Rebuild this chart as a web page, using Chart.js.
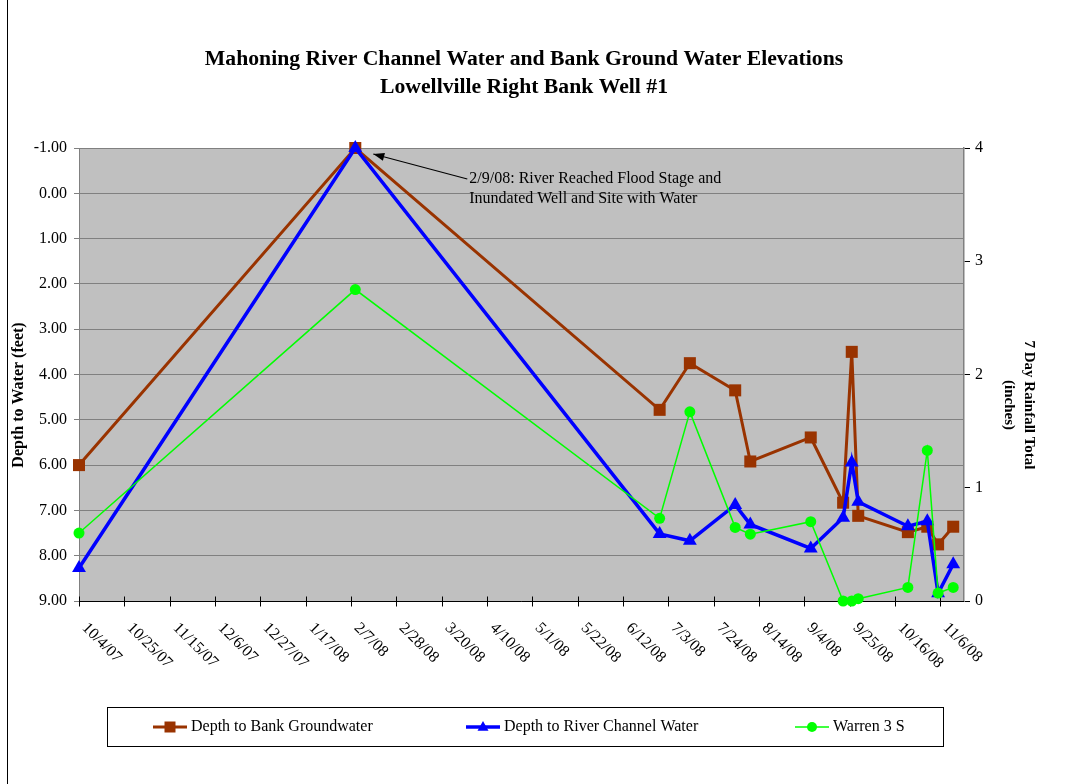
<!DOCTYPE html>
<html>
<head>
<meta charset="utf-8">
<title>Mahoning River Channel Water and Bank Ground Water Elevations</title>
<script src="https://cdn.jsdelivr.net/npm/chart.js@4.4.1/dist/chart.umd.min.js"></script>
<style>
  html, body { margin: 0; padding: 0; background: #ffffff; }
  #wrap { width: 1069px; height: 784px; position: relative; }
  canvas { display: block; }
</style>
</head>
<body>
<div id="wrap"><canvas id="chart" width="1069" height="784"></canvas></div>
<script>
// Sampling dates (M/D/YY) and measured values
const sampleDates = ['10/4/07', '2/9/08', '6/29/08', '7/13/08', '8/3/08', '8/10/08', '9/7/08',
                     '9/22/08', '9/26/08', '9/29/08', '10/22/08', '10/31/08', '11/5/08', '11/12/08'];
// Depth to water, feet (left axis)
const bankGroundwater = [6.00, -1.00, 4.78, 3.75, 4.35, 5.92, 5.39, 6.83, 3.50, 7.12, 7.48, 7.36, 7.75, 7.36];
const riverChannel    = [8.27, -1.00, 7.52, 7.67, 6.88, 7.31, 7.84, 7.16, 5.94, 6.81, 7.35, 7.24, 8.83, 8.19];
// 7 day rainfall total, inches (right axis)
const warren3S        = [0.60, 2.75, 0.73, 1.67, 0.65, 0.59, 0.70, 0.00, 0.00, 0.02, 0.12, 1.33, 0.07, 0.12];

// Date axis: ticks every 21 days
const dateTickLabels = ['10/4/07', '10/25/07', '11/15/07', '12/6/07', '12/27/07', '1/17/08', '2/7/08',
                        '2/28/08', '3/20/08', '4/10/08', '5/1/08', '5/22/08', '6/12/08', '7/3/08',
                        '7/24/08', '8/14/08', '9/4/08', '9/25/08', '10/16/08', '11/6/08'];
const axisStart = '10/4/07';
const axisEnd = '11/17/08';

const titleLines = ['Mahoning River Channel Water and Bank Ground Water Elevations',
                    'Lowellville Right Bank Well #1'];
const depthAxisTitle = 'Depth to Water (feet)';
const rainAxisTitle = ['7 Day Rainfall Total', '(inches)'];
const noteLines = ['2/9/08: River Reached Flood Stage and', 'Inundated Well and Site with Water'];
const noteDate = '2/9/08';

const SERIF = "'Liberation Serif', 'Times New Roman', serif";

function toUTC(s) {
  const [m, d, y] = s.split('/').map(Number);
  return Date.UTC(2000 + y, m - 1, d);
}
// days since the start of the date axis
function dayNumber(s) {
  return Math.round((toUTC(s) - toUTC(axisStart)) / 86400000);
}
function pairs(values) {
  return sampleDates.map((d, i) => ({ x: dayNumber(d), y: values[i] }));
}

// simple marker painter used by the legend
function paintMarker(ctx, style, x, y, r, color) {
  ctx.save();
  ctx.fillStyle = color;
  ctx.beginPath();
  if (style === 'rect') {
    ctx.rect(x - r, y - r, 2 * r, 2 * r);
  } else if (style === 'triangle') {
    ctx.moveTo(x, y - r * 1.1);
    ctx.lineTo(x + r, y + r * 0.7);
    ctx.lineTo(x - r, y + r * 0.7);
    ctx.closePath();
  } else {
    ctx.arc(x, y, r, 0, Math.PI * 2);
  }
  ctx.fill();
  ctx.restore();
}

const decorations = {
  id: 'decorations',
  beforeDraw(chart) {
    const { ctx, chartArea: a } = chart;
    ctx.save();
    ctx.fillStyle = '#ffffff';
    ctx.fillRect(0, 0, chart.width, chart.height);
    ctx.fillStyle = '#C0C0C0';
    ctx.fillRect(a.left, a.top, a.right - a.left, a.bottom - a.top);
    ctx.restore();
  },
  beforeDatasetsDraw(chart) {
    const { ctx, chartArea: a } = chart;
    const xs = chart.scales.x;
    const y0 = Math.round(a.bottom) + 0.5;
    ctx.save();
    // date axis line and ticks
    ctx.strokeStyle = '#000000';
    ctx.lineWidth = 1;
    ctx.beginPath();
    ctx.moveTo(a.left, y0);
    ctx.lineTo(a.right, y0);
    ctx.stroke();
    ctx.fillStyle = '#000000';
    ctx.font = '16px ' + SERIF;
    ctx.textAlign = 'left';
    ctx.textBaseline = 'middle';
    dateTickLabels.forEach(lbl => {
      const px = Math.round(xs.getPixelForValue(dayNumber(lbl))) + 0.5;
      ctx.beginPath();
      ctx.moveTo(px, y0 - 5);
      ctx.lineTo(px, y0 + 5);
      ctx.stroke();
      ctx.save();
      ctx.translate(px + 5, y0 + 24);
      ctx.rotate(Math.PI / 4);
      ctx.fillText(lbl, 0, 0);
      ctx.restore();
    });
    ctx.restore();
  },
  afterDraw(chart) {
    const { ctx } = chart;
    const xs = chart.scales.x, ys = chart.scales.y;
    ctx.save();

    // chart title
    ctx.fillStyle = '#000000';
    ctx.textAlign = 'center';
    ctx.textBaseline = 'middle';
    ctx.font = 'bold 21.7px ' + SERIF;
    titleLines.forEach((t, i) => ctx.fillText(t, 524, 59 + i * 28));

    // axis titles
    ctx.font = 'bold 16px ' + SERIF;
    ctx.save();
    ctx.translate(19, 395);
    ctx.rotate(-Math.PI / 2);
    ctx.fillText(depthAxisTitle, 0, 0);
    ctx.restore();
    ctx.font = 'bold 15px ' + SERIF;
    ctx.save();
    ctx.translate(1029, 405);
    ctx.rotate(Math.PI / 2);
    rainAxisTitle.forEach((t, i) => ctx.fillText(t, 0, i * 20));
    ctx.restore();

    // flood note with arrow pointing at the peak
    const px = xs.getPixelForValue(dayNumber(noteDate));
    const py = ys.getPixelForValue(bankGroundwater[sampleDates.indexOf(noteDate)]);
    const tip = { x: px + 18, y: py + 6 };
    const tail = { x: px + 112, y: py + 31 };
    ctx.strokeStyle = '#000000';
    ctx.lineWidth = 1.2;
    ctx.beginPath();
    ctx.moveTo(tail.x, tail.y);
    ctx.lineTo(tip.x, tip.y);
    ctx.stroke();
    const ang = Math.atan2(tip.y - tail.y, tip.x - tail.x);
    ctx.beginPath();
    ctx.moveTo(tip.x, tip.y);
    ctx.lineTo(tip.x - 11 * Math.cos(ang) + 4 * Math.sin(ang), tip.y - 11 * Math.sin(ang) - 4 * Math.cos(ang));
    ctx.lineTo(tip.x - 11 * Math.cos(ang) - 4 * Math.sin(ang), tip.y - 11 * Math.sin(ang) + 4 * Math.cos(ang));
    ctx.closePath();
    ctx.fill();
    ctx.font = '16px ' + SERIF;
    ctx.textAlign = 'left';
    noteLines.forEach((t, i) => ctx.fillText(t, px + 114, py + 31 + i * 20));

    // legend
    ctx.strokeStyle = '#000000';
    ctx.lineWidth = 1;
    ctx.strokeRect(107.5, 707.5, 836, 39);
    const itemX = [153, 466, 795];
    const ly = 727;
    chart.data.datasets.forEach((ds, i) => {
      const x0 = itemX[i];
      ctx.strokeStyle = ds.borderColor;
      ctx.lineWidth = ds.borderWidth;
      ctx.beginPath();
      ctx.moveTo(x0, ly);
      ctx.lineTo(x0 + 34, ly);
      ctx.stroke();
      const r = ds.pointStyle === 'circle' ? 5 : 5.5;
      paintMarker(ctx, ds.pointStyle, x0 + 17, ly, r, ds.pointBackgroundColor);
      ctx.fillStyle = '#000000';
      ctx.font = '16px ' + SERIF;
      ctx.textAlign = 'left';
      ctx.textBaseline = 'middle';
      ctx.fillText(ds.label, x0 + 38, ly);
    });

    // outer frame
    ctx.strokeStyle = '#000000';
    ctx.lineWidth = 1;
    ctx.beginPath();
    ctx.moveTo(7.5, 0);
    ctx.lineTo(7.5, chart.height);
    ctx.stroke();
    ctx.restore();
  }
};

new Chart(document.getElementById('chart'), {
  type: 'line',
  data: {
    datasets: [
      {
        label: 'Depth to Bank Groundwater',
        data: pairs(bankGroundwater),
        yAxisID: 'y',
        borderColor: '#993300',
        backgroundColor: '#993300',
        pointBackgroundColor: '#993300',
        pointBorderColor: '#993300',
        borderWidth: 3,
        pointStyle: 'rect',
        pointRadius: 8.5,
        pointBorderWidth: 0,
        tension: 0,
        order: 3,
        clip: false
      },
      {
        label: 'Depth to River Channel Water',
        data: pairs(riverChannel),
        yAxisID: 'y',
        borderColor: '#0000FF',
        backgroundColor: '#0000FF',
        pointBackgroundColor: '#0000FF',
        pointBorderColor: '#0000FF',
        borderWidth: 3.5,
        pointStyle: 'triangle',
        pointRadius: 8,
        pointBorderWidth: 0,
        tension: 0,
        order: 2,
        clip: false
      },
      {
        label: 'Warren 3 S',
        data: pairs(warren3S),
        yAxisID: 'y1',
        borderColor: '#00FF00',
        backgroundColor: '#00FF00',
        pointBackgroundColor: '#00FF00',
        pointBorderColor: '#00FF00',
        borderWidth: 1.5,
        pointStyle: 'circle',
        pointRadius: 5.5,
        pointBorderWidth: 0,
        tension: 0,
        order: 1,
        clip: false
      }
    ]
  },
  options: {
    responsive: false,
    animation: false,
    devicePixelRatio: 1,
    layout: { padding: { top: 148, left: 0, right: 0, bottom: 0 } },
    plugins: {
      legend: { display: false },
      tooltip: { enabled: false },
      title: { display: false }
    },
    scales: {
      x: {
        type: 'linear',
        min: 0,
        max: dayNumber(axisEnd),
        ticks: { display: false },
        grid: { display: false },
        border: { display: false },
        afterFit(scale) { scale.height = 183; }
      },
      y: {
        type: 'linear',
        position: 'left',
        reverse: true,
        min: -1,
        max: 9,
        ticks: {
          stepSize: 1,
          color: '#000000',
          padding: 7,
          font: { family: SERIF, size: 16 },
          callback: v => v.toFixed(2)
        },
        grid: { color: '#808080', lineWidth: 1, tickLength: 5, tickColor: '#808080' },
        border: { color: '#808080', width: 1 },
        afterFit(scale) { scale.width = 79; }
      },
      y1: {
        type: 'linear',
        position: 'right',
        min: 0,
        max: 4,
        ticks: {
          stepSize: 1,
          color: '#000000',
          padding: 5,
          font: { family: SERIF, size: 16 },
          callback: v => String(v)
        },
        grid: { drawOnChartArea: false, tickLength: 6, tickColor: '#000000' },
        border: { color: '#808080', width: 1.5 },
        afterFit(scale) { scale.width = 105; }
      }
    }
  },
  plugins: [decorations]
});
</script>
</body>
</html>
